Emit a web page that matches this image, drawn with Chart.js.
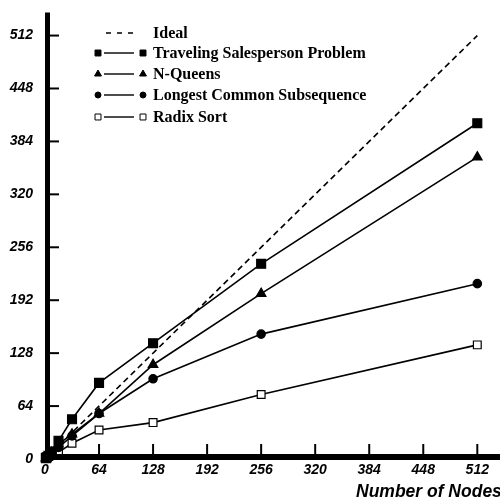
<!DOCTYPE html>
<html><head><meta charset="utf-8">
<script src="https://cdn.jsdelivr.net/npm/chart.js@4/dist/chart.umd.min.js"></script>
<style>html,body{margin:0;padding:0;background:#fff}#wrap{width:500px;height:500px;position:relative}</style>
</head><body><div id="wrap"><canvas id="c" width="500" height="500"></canvas></div>
<script>
const nodes   = [1, 2, 4, 8, 16, 32, 64, 128, 256, 512];
const idealX  = [0, 512];
const tsp     = [1, 2, 4, 9, 22, 48, 92, 140, 236, 406];
const nqueens = [1, 2, 4, 8, 18, 30, 55, 114, 200, 365];
const lcs     = [1, 2, 4, 7, 14, 28, 55, 97, 151, 212];
const radix   = [1, 2, 3, 5, 8, 19, 35, 44, 78, 138];
const xTicks  = [0, 64, 128, 192, 256, 320, 384, 448, 512];
const yTicks  = [0, 64, 128, 192, 256, 320, 384, 448, 512];
const seriesNames = ['Ideal', 'Traveling Salesperson Problem', 'N-Queens', 'Longest Common Subsequence', 'Radix Sort'];
const xTitle = 'Number of Nodes';

const pts = (xs, ys) => xs.map((x, i) => ({x, y: ys[i]}));
const tickFont = {family: "'Liberation Sans', Arial, sans-serif", size: 14, weight: 'bold', style: 'italic'};

const ds = [
  {label: seriesNames[0], data: pts(idealX, idealX), borderDash: [6, 4], pointRadius: 0, ps: null},
  {label: seriesNames[1], data: pts(nodes, tsp), pointStyle: 'rect', pointRadius: 6.3, ps: 'rect', fill: '#000'},
  {label: seriesNames[2], data: pts(nodes, nqueens), pointStyle: 'triangle', pointRadius: 5.5, ps: 'triangle', fill: '#000'},
  {label: seriesNames[3], data: pts(nodes, lcs), pointStyle: 'circle', pointRadius: 4.2, ps: 'circle', fill: '#000'},
  {label: seriesNames[4], data: pts(nodes, radix), pointStyle: 'rect', pointRadius: 5.5, ps: 'rect', fill: '#fff'}
].map(d => Object.assign({
  borderColor: '#000', borderWidth: 1.6, pointBackgroundColor: d.fill || '#000',
  pointBorderColor: '#000', pointBorderWidth: 1.2, tension: 0, clip: false
}, d));

const decor = {
  id: 'decor',
  afterDraw(chart) {
    const ctx = chart.ctx, xs = chart.scales.x, ys = chart.scales.y, a = chart.chartArea;
    ctx.save();
    ctx.strokeStyle = '#000'; ctx.lineCap = 'butt';
    const x0 = xs.getPixelForValue(0), y0 = ys.getPixelForValue(0);
    // axes
    ctx.lineWidth = 5;
    ctx.beginPath(); ctx.moveTo(x0 + 2.5, a.top); ctx.lineTo(x0 + 2.5, y0 + 2); ctx.stroke();
    ctx.lineWidth = 6;
    ctx.beginPath(); ctx.moveTo(x0, y0 - 2); ctx.lineTo(chart.width, y0 - 2); ctx.stroke();
    // inward ticks
    ctx.lineWidth = 2;
    yTicks.forEach(v => { if (!v) return; const y = ys.getPixelForValue(v);
      ctx.beginPath(); ctx.moveTo(x0 + 4, y); ctx.lineTo(x0 + 14, y); ctx.stroke(); });
    xTicks.forEach(v => { if (!v) return; const x = xs.getPixelForValue(v);
      ctx.beginPath(); ctx.moveTo(x, y0 - 4); ctx.lineTo(x, y0 - 15); ctx.stroke(); });
    // axis title (cut at right edge like reference)
    ctx.fillStyle = '#000';
    ctx.font = "italic bold 17.5px 'Liberation Sans', Arial, sans-serif";
    ctx.textAlign = 'left'; ctx.textBaseline = 'alphabetic';
    ctx.fillText(xTitle, 356, 497);
    // legend
    ctx.font = "bold 16px 'Liberation Serif', 'Times New Roman', serif";
    ctx.textBaseline = 'middle';
    const rows = [33, 53, 74, 95, 117];
    chart.data.datasets.forEach((d, i) => {
      const y = rows[i];
      ctx.lineWidth = 1.4; ctx.strokeStyle = '#000';
      if (i === 0) {
        ctx.setLineDash([5, 6]);
        ctx.beginPath(); ctx.moveTo(106, y); ctx.lineTo(133, y); ctx.stroke();
        ctx.setLineDash([]);
      } else {
        ctx.beginPath(); ctx.moveTo(104, y); ctx.lineTo(134, y); ctx.stroke();
        ctx.fillStyle = d.pointBackgroundColor; ctx.lineWidth = 1;
        const r = d.ps === 'circle' ? 3 : (d.ps === 'triangle' ? 4 : 4.2);
        [98, 143].forEach(px => {
          Chart.helpers.drawPoint(ctx, {pointStyle: d.ps, radius: r, borderWidth: 1, rotation: 0}, px, y);
        });
      }
      ctx.fillStyle = '#000';
      ctx.fillText(d.label, 153, y + 1);
    });
    ctx.restore();
  }
};

new Chart(document.getElementById('c'), {
  type: 'line',
  data: {datasets: ds},
  options: {
    responsive: false, animation: false, devicePixelRatio: 1,
    layout: {padding: {top: 10, right: 0, left: 0, bottom: 0}},
    plugins: {legend: {display: false}, tooltip: {enabled: false}},
    scales: {
      x: {
        type: 'linear', min: 0, max: 530,
        grid: {display: false}, border: {display: false},
        ticks: {font: tickFont, color: '#000', padding: -5, maxRotation: 0, includeBounds: false},
        afterBuildTicks: s => { s.ticks = xTicks.map(v => ({value: v})); },
        afterFit: s => { s.height = 41; }
      },
      y: {
        type: 'linear', min: 0, max: 540,
        grid: {display: false}, border: {display: false},
        ticks: {font: tickFont, color: '#000', padding: 4, includeBounds: false},
        afterBuildTicks: s => { s.ticks = yTicks.map(v => ({value: v})); },
        afterFit: s => { s.width = 45; }
      }
    }
  },
  plugins: [decor]
});
</script>
</body></html>
